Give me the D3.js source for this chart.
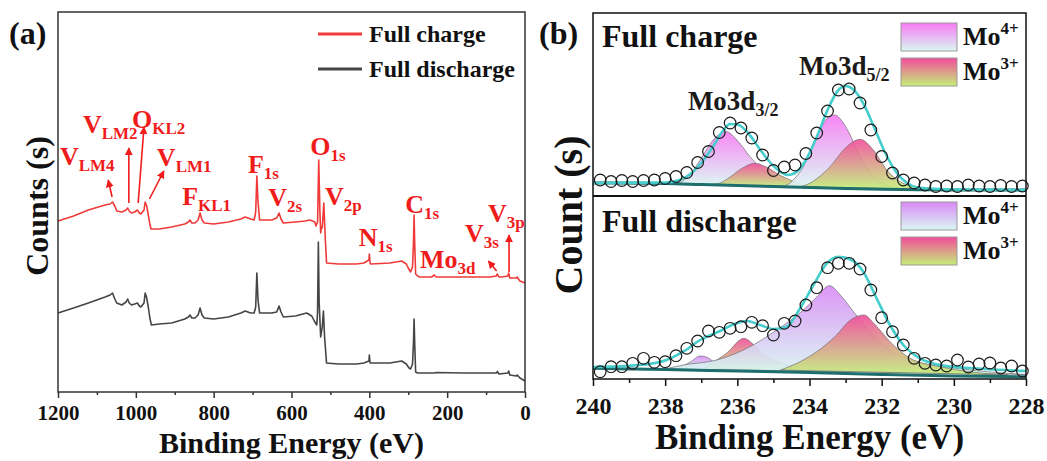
<!DOCTYPE html>
<html>
<head>
<meta charset="utf-8">
<script src="https://cdn.jsdelivr.net/npm/d3@7"></script>
<style>
  body { margin: 0; background: #fff; }
  text { font-family: "Liberation Serif", "Times New Roman", serif; font-weight: bold; }
</style>
</head>
<body>
<svg id="fig" width="1047" height="461"></svg>
<script>
// ---------- panel (a): survey spectra [binding energy eV, counts a.u.] ----------
var surveyCharge = [[1200,171],[1160,176],[1122,182],[1079,187],[1066,188],[1060,190],[1054,186],[1049,181],[1036,180],[1025,182],[1021,184],[1017,181],[1011,179],[1003,180],[996,182],[991,179],[987,178],[979,182],[976,190],[972,186],[968,177],[964,168],[961,163],[940,163],[908,165],[874,168],[865,170],[861,172],[856,169],[848,169],[840,172],[835,179],[830,172],[824,169],[800,168],[762,170],[730,173],[719,175],[705,173],[696,172],[692,180],[689,216],[686,190],[682,172],[651,172],[638,174],[632,179],[627,173],[621,169],[590,170],[565,171],[553,172],[540,170],[537,166],[533,170],[530,232],[527,180],[525,159],[523,165],[521,164],[517,189],[515,170],[513,152],[510,129],[480,128],[433,128],[414,129],[401,132],[400,138],[398,129],[397,128],[347,129],[317,131],[305,128],[300,124],[294,120],[289,125],[286.5,150],[285,177],[283.5,150],[281,118],[276,116],[270,115],[240,115],[233,117],[228,115],[159,115],[90,115],[74,116],[71,118],[67,115],[60,115],[44,116],[42,119],[39,114],[34,114],[22,114],[20,115],[17,113],[13,111],[0,109]];
var surveyDischarge = [[1200,79],[1160,84],[1122,89],[1079,95],[1066,97],[1060,99],[1054,93],[1049,89],[1036,87],[1025,90],[1021,93],[1017,89],[1011,87],[1003,88],[996,89],[991,86],[987,85],[979,89],[976,99],[972,94],[968,85],[964,74],[960,67],[940,68],[908,69],[874,73],[865,75],[861,77],[856,74],[848,74],[840,77],[835,84],[830,77],[824,74],[800,73],[762,75],[730,79],[719,81],[705,79],[696,79],[692,85],[689,119],[686,92],[682,79],[651,79],[638,80],[632,86],[627,80],[621,75],[590,76],[561,79],[548,76],[540,70],[535,67],[533,80],[531,150],[529,90],[525,55],[521,65],[518,81],[515,55],[513,45],[510,29],[480,28],[433,28],[414,29],[401,31],[400,37],[398,29],[347,29],[317,31],[305,28],[298,24],[294,23],[289,28],[286.5,50],[285,73],[283.5,50],[281,20],[276,19],[233,19],[228,19.5],[159,19],[120,19],[74,19],[71,20.5],[67,18],[44,19],[42,21],[39,17],[22,16],[20,17],[13,14],[0,11]];
var surveyTicks = [1200, 1000, 800, 600, 400, 200, 0];
var surveyMinorTicks = [1100, 900, 700, 500, 300, 100];
var peakNames = [
  {main: "V", sub: "LM4", ev: 1195, cnt: 227},
  {main: "V", sub: "LM2", ev: 1136, cnt: 259},
  {main: "O", sub: "KL2", ev: 1010, cnt: 264},
  {main: "V", sub: "LM1", ev: 946, cnt: 226},
  {main: "F", sub: "KL1", ev: 881, cnt: 187},
  {main: "F", sub: "1s", ev: 712, cnt: 219},
  {main: "V", sub: "2s", ev: 660, cnt: 186},
  {main: "O", sub: "1s", ev: 552, cnt: 237},
  {main: "V", sub: "2p", ev: 514, cnt: 187},
  {main: "N", sub: "1s", ev: 427, cnt: 146},
  {main: "C", sub: "1s", ev: 308, cnt: 179},
  {main: "Mo", sub: "3d", ev: 270, cnt: 124},
  {main: "V", sub: "3s", ev: 154, cnt: 150},
  {main: "V", sub: "3p", ev: 95, cnt: 170}
];
var peakArrows = [
  {from: [1061, 195], to: [1071, 212]},
  {from: [1018, 189], to: [1018, 244]},
  {from: [994, 189], to: [979, 265]},
  {from: [965, 193], to: [928, 221]},
  {from: [73, 121], to: [94, 131]},
  {from: [41, 120], to: [41, 157]}
];

// ---------- panel (b): Mo 3d high resolution ----------
var moTicks = [240, 238, 236, 234, 232, 230, 228];
var moMinorTicks = [239, 237, 235, 233, 231, 229];
var moEnergy = [239.8,239.5,239.2,238.9,238.6,238.3,238.0,237.7,237.4,237.1,236.8,236.5,236.2,235.9,235.6,235.3,235.0,234.7,234.4,234.1,233.8,233.5,233.2,232.9,232.6,232.3,232.0,231.7,231.4,231.1,230.8,230.5,230.2,229.9,229.6,229.3,229.0,228.7,228.4,228.1];
var chargeCounts = [16,14.5,15.5,14.5,15.5,16,17.5,19.5,23.5,33.5,44.5,63.5,73,68,58,41,25.5,29,31,42.5,63,85,106,107,93,66,39.5,23,16,13,11,9.5,10,9.5,11,10,9.5,10.5,9.5,10];
var dischargeCounts = [7.3,12.3,12.3,15.7,20.7,16.7,17.3,23.3,30.7,38,48,46.7,50.7,52.3,56.7,53.3,44,55.7,58,74,91.3,111.3,115.7,115.7,110,89,61.3,47.3,34,20.7,15.7,14,13,19,12,15,16,11,13,8];

var chargeBackground = [[240,13],[238,12.5],[237,11.5],[236,10.5],[235,9.5],[234,8.5],[233,7.5],[232,6.8],[231,6.3],[230,6],[228,6]];
var chargeEnvelope = [[240,13],[238.0,13.5],[237.6,16],[237.3,22],[237.0,33],[236.7,48],[236.4,65],[236.2,72],[236.0,71.5],[235.7,63],[235.4,48],[235.1,34],[234.8,24],[234.6,21],[234.4,23],[234.1,36],[233.8,59],[233.5,86],[233.2,106],[233.0,110],[232.8,107],[232.5,92],[232.2,68],[231.9,43],[231.6,24],[231.3,13],[231.0,8.5],[230,6.5],[228,6]];
var chargeMo4d32 = [[237.9,12],[237.64,13],[237.3,22],[237.03,36],[236.67,56],[236.31,64.3],[235.97,54.3],[235.65,39.3],[235.28,26],[234.91,17.7],[234.54,12],[234.2,9.5]];
var chargeMo3d32 = [[236.8,11.5],[236.48,13],[236.2,19],[235.9,27],[235.51,32.7],[235.2,29],[234.8,20.5],[234.54,16],[234.17,11],[233.9,9]];
var chargeMo4d52 = [[234.9,9.5],[234.63,11],[234.4,18],[234.17,29.3],[233.95,47],[233.71,66],[233.5,78],[233.29,81],[233.1,75],[232.92,64.3],[232.6,39.3],[232.23,19.3],[231.86,11],[231.5,7.5]];
var chargeMo3d52 = [[234.3,9],[233.99,12.7],[233.7,20],[233.43,29.3],[232.97,49.3],[232.6,56.7],[232.23,46],[231.86,26],[231.49,14.3],[231.12,9.3],[230.8,7]];

var dischargeBackground = [[240,10.7],[238,9.5],[236,8],[234,6.5],[232,4.5],[230,3],[228,2.3]];
var dischargeEnvelope = [[240,12],[238.7,14],[237.96,19],[237.5,27.3],[237.03,39],[236.48,48],[236.02,55.7],[235.74,58],[235.37,54],[235.0,50],[234.63,52.3],[234.26,70.7],[233.89,94],[233.52,115.7],[233.2,122.3],[232.83,119],[232.51,107.3],[232.14,80.7],[231.77,54],[231.4,34],[230.94,20.7],[230.38,14],[229.46,10.7],[228,8]];
var dischargeMo4d32 = [[237.9,10.2],[237.6,12],[237.3,17],[237.03,23],[236.8,21],[236.6,15],[236.4,11],[236.2,9]];
var dischargeMo3d32 = [[236.9,11],[236.57,19],[236.2,29],[236.0,37],[235.82,40.7],[235.6,36],[235.46,30.7],[235.09,20.7],[234.63,14],[234.3,10],[234.0,8]];
var dischargeMo4d52 = [[238.0,10],[237.5,14],[236.57,19],[235.65,32.3],[234.91,49],[234.17,69],[233.8,82],[233.45,93.3],[233.1,82],[232.78,67.3],[232.23,44],[231.77,29],[231.03,17.3],[229.92,10.7],[229.0,7],[228.0,4.5]];
var dischargeMo3d52 = [[234.8,9],[234.35,15.7],[233.8,27.3],[233.25,44],[232.9,58],[232.49,64],[232.2,55],[231.77,37.3],[231.21,20.7],[230.38,12.3],[229.5,7],[228.5,4]];

///////////////////////////////////////////////////////////////////////

var svg = d3.select("#fig");
var defs = svg.append("defs");

function vGradient(id, top, bottom) {
  var g = defs.append("linearGradient").attr("id", id)
    .attr("x1", 0).attr("y1", 0).attr("x2", 0).attr("y2", 1);
  g.append("stop").attr("offset", "0%").attr("stop-color", top);
  g.append("stop").attr("offset", "100%").attr("stop-color", bottom);
}
vGradient("mo4c", "#f77af4", "#d9f8f2");
vGradient("mo4d", "#d88af6", "#d9f8f2");
vGradient("mo3", "#f24c9b", "#c4ef78");

defs.append("marker").attr("id", "arrowRed")
  .attr("viewBox", "0 0 10 10").attr("refX", 9).attr("refY", 5)
  .attr("markerWidth", 5).attr("markerHeight", 5).attr("orient", "auto")
  .append("path").attr("d", "M0,0 L10,5 L0,10 z").attr("fill", "#f01c1c");

var red = "#f01c1c";

// ================= panel (a) =================
var xa = d3.scaleLinear().domain([1200, 0]).range([58, 525]);
var ya = d3.scaleLinear().domain([0, 380]).range([392, 12]);

var lineA = d3.line().x(d => xa(d[0])).y(d => ya(d[1]));

var panelA = svg.append("g");

panelA.append("path").datum(surveyDischarge)
  .attr("d", lineA).attr("fill", "none")
  .attr("stroke", "#454545").attr("stroke-width", 1.6).attr("stroke-linejoin", "round");
panelA.append("path").datum(surveyCharge)
  .attr("d", lineA).attr("fill", "none")
  .attr("stroke", "#f03a3a").attr("stroke-width", 1.6).attr("stroke-linejoin", "round");

panelA.append("rect")
  .attr("x", xa(1200)).attr("y", ya(380))
  .attr("width", xa(0) - xa(1200)).attr("height", ya(0) - ya(380))
  .attr("fill", "none").attr("stroke", "#333").attr("stroke-width", 1.5);

var axisA = panelA.append("g").attr("transform", `translate(0, ${ya(0)})`)
  .call(d3.axisBottom(xa).tickValues(surveyTicks).tickFormat(d3.format("d"))
    .tickSize(6).tickSizeOuter(0).tickPadding(7));
panelA.append("g").attr("transform", `translate(0, ${ya(0)})`)
  .call(d3.axisBottom(xa).tickValues(surveyMinorTicks).tickSize(3).tickFormat(""))
  .select(".domain").remove();
axisA.select(".domain").remove();
panelA.selectAll(".tick line").attr("stroke", "#333").attr("stroke-width", 1.5);
axisA.selectAll("text").attr("font-size", 21).attr("fill", "#111")
  .attr("font-family", "Liberation Serif, serif").attr("font-weight", "bold");

panelA.append("text").attr("x", (xa(1200) + xa(0)) / 2).attr("y", 453)
  .attr("text-anchor", "middle").attr("font-size", 30).attr("fill", "#111")
  .text("Binding Energy (eV)");
panelA.append("text").attr("transform", "translate(48, 206) rotate(-90)")
  .attr("text-anchor", "middle").attr("font-size", 32).attr("fill", "#111")
  .text("Counts (s)");
panelA.append("text").attr("x", 9).attr("y", 44).attr("font-size", 32).attr("fill", "#111").text("(a)");

// legend
var legA = [{name: "Full charge", color: "#f03a3a", y: 34}, {name: "Full discharge", color: "#454545", y: 69}];
legA.forEach(function(d) {
  panelA.append("line").attr("x1", 318).attr("x2", 362).attr("y1", d.y).attr("y2", d.y)
    .attr("stroke", d.color).attr("stroke-width", 3);
  panelA.append("text").attr("x", 369).attr("y", d.y + 7.5).attr("font-size", 24).attr("fill", "#111").text(d.name);
});

// peak annotations
peakArrows.forEach(function(d) {
  panelA.append("line")
    .attr("x1", xa(d.from[0])).attr("y1", ya(d.from[1]))
    .attr("x2", xa(d.to[0])).attr("y2", ya(d.to[1]))
    .attr("stroke", red).attr("stroke-width", 1.6).attr("marker-end", "url(#arrowRed)");
});
peakNames.forEach(function(d) {
  var t = panelA.append("text").attr("x", xa(d.ev)).attr("y", ya(d.cnt)).attr("fill", red).attr("font-size", 26);
  t.append("tspan").text(d.main);
  t.append("tspan").attr("font-size", 17).attr("dy", 6).text(d.sub);
});

// ================= panel (b) =================
var xb = d3.scaleLinear().domain([240, 228]).range([593, 1026]);
var ybTop = d3.scaleLinear().domain([0, 183]).range([196, 13]);
var ybBot = d3.scaleLinear().domain([0, 183]).range([379, 196]);

var panelB = svg.append("g");

function drawFit(y, background, envelope, comps, counts) {
  var line = d3.line().x(d => xb(d[0])).y(d => y(d[1])).curve(d3.curveMonotoneX);
  comps.forEach(function(c) {
    panelB.append("path").attr("d", line(c.data) + "Z")
      .attr("fill", `url(#${c.grad})`).attr("fill-opacity", 0.9)
      .attr("stroke", "#6e6e6e").attr("stroke-width", 0.7);
  });
  panelB.append("path").datum(background).attr("d", line)
    .attr("fill", "none").attr("stroke", "#1f6e6e").attr("stroke-width", 3);
  panelB.append("path").datum(envelope).attr("d", line)
    .attr("fill", "none").attr("stroke", "#45cccc").attr("stroke-width", 2.6);
  panelB.append("g").selectAll("circle")
    .data(moEnergy)
    .enter().append("circle")
    .attr("cx", d => xb(d))
    .attr("cy", (d, i) => y(counts[i]))
    .attr("r", 5.8)
    .attr("fill", "none").attr("stroke", "#1a1a1a").attr("stroke-width", 1.2);
}

drawFit(ybTop, chargeBackground, chargeEnvelope, [
  {data: chargeMo4d32, grad: "mo4c"},
  {data: chargeMo3d32, grad: "mo3"},
  {data: chargeMo4d52, grad: "mo4c"},
  {data: chargeMo3d52, grad: "mo3"}
], chargeCounts);

drawFit(ybBot, dischargeBackground, dischargeEnvelope, [
  {data: dischargeMo4d32, grad: "mo4d"},
  {data: dischargeMo3d32, grad: "mo3"},
  {data: dischargeMo4d52, grad: "mo4d"},
  {data: dischargeMo3d52, grad: "mo3"}
], dischargeCounts);

// frames
panelB.append("rect")
  .attr("x", xb(240)).attr("y", ybTop(183))
  .attr("width", xb(228) - xb(240)).attr("height", ybBot(0) - ybTop(183))
  .attr("fill", "none").attr("stroke", "#111").attr("stroke-width", 1.5);
panelB.append("line").attr("x1", xb(240)).attr("x2", xb(228))
  .attr("y1", ybTop(0)).attr("y2", ybTop(0)).attr("stroke", "#111").attr("stroke-width", 2);

var axisB = panelB.append("g").attr("transform", `translate(0, ${ybBot(0)})`)
  .call(d3.axisBottom(xb).tickValues(moTicks).tickSize(7).tickSizeOuter(0).tickPadding(11));
panelB.append("g").attr("transform", `translate(0, ${ybBot(0)})`)
  .call(d3.axisBottom(xb).tickValues(moMinorTicks).tickSize(4).tickFormat(""))
  .select(".domain").remove();
axisB.select(".domain").remove();
panelB.selectAll(".tick line").attr("stroke", "#111").attr("stroke-width", 1.5);
axisB.selectAll("text").attr("font-size", 24).attr("fill", "#111")
  .attr("font-family", "Liberation Serif, serif").attr("font-weight", "bold");

panelB.append("text").attr("x", (xb(240) + xb(228)) / 2).attr("y", 449)
  .attr("text-anchor", "middle").attr("font-size", 35).attr("fill", "#111")
  .text("Binding Energy (eV)");
panelB.append("text").attr("transform", "translate(582, 215) rotate(-90)")
  .attr("text-anchor", "middle").attr("font-size", 40).attr("fill", "#111")
  .text("Count (s)");
panelB.append("text").attr("x", 539).attr("y", 44).attr("font-size", 32).attr("fill", "#111").text("(b)");

panelB.append("text").attr("x", 602).attr("y", 47).attr("font-size", 32).attr("fill", "#111").text("Full charge");
panelB.append("text").attr("x", 602).attr("y", 232).attr("font-size", 32).attr("fill", "#111").text("Full discharge");

// Mo3d labels
var moLabels = [{sub: "3/2", ev: 237.37, cnt: 86}, {sub: "5/2", ev: 234.29, cnt: 121}];
moLabels.forEach(function(d) {
  var t = panelB.append("text").attr("x", xb(d.ev)).attr("y", ybTop(d.cnt)).attr("font-size", 27).attr("fill", "#1c1a18");
  t.append("tspan").text("Mo3d");
  t.append("tspan").attr("font-size", 18).attr("dy", 6).text(d.sub);
});

// legends
function moLegend(top, grad4) {
  var items = [{grad: grad4, sup: "4+", y: top}, {grad: "mo3", sup: "3+", y: top + 35}];
  items.forEach(function(d) {
    panelB.append("rect").attr("x", 901).attr("y", d.y).attr("width", 56).attr("height", 28)
      .attr("fill", `url(#${d.grad})`).attr("stroke", "#999").attr("stroke-width", 1);
    var t = panelB.append("text").attr("x", 963).attr("y", d.y + 22).attr("font-size", 26).attr("fill", "#111");
    t.append("tspan").text("Mo");
    t.append("tspan").attr("font-size", 17).attr("dy", -11).text(d.sup);
  });
}
moLegend(23, "mo4c");
moLegend(202, "mo4d");
</script>
</body>
</html>
